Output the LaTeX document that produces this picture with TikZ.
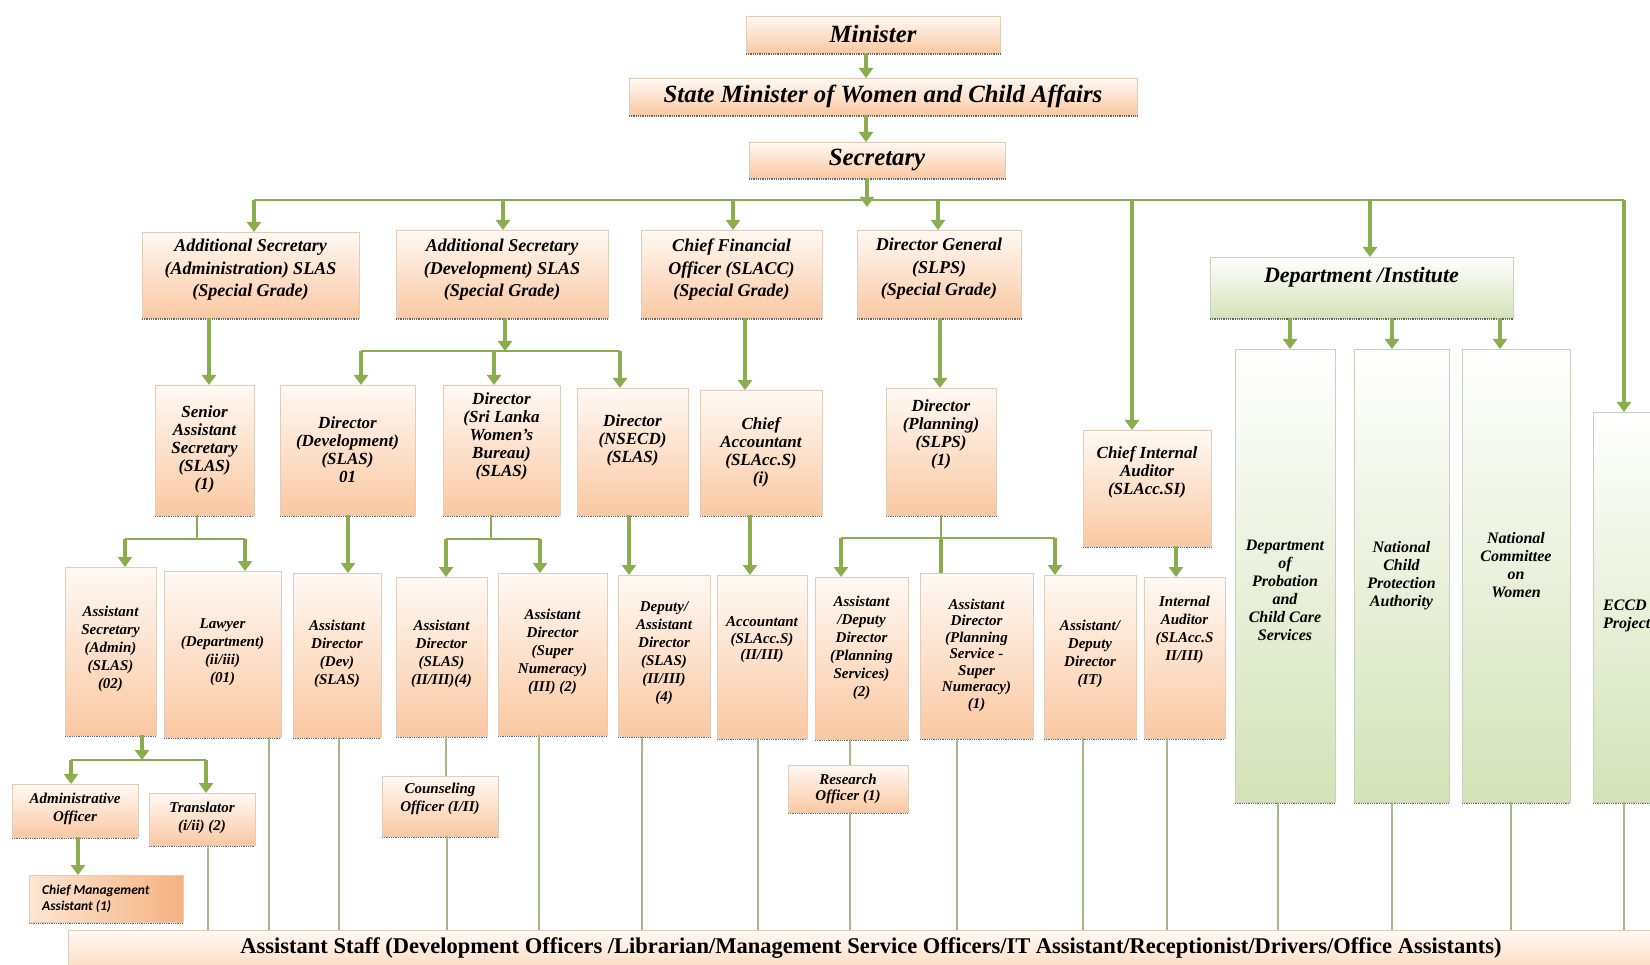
\documentclass[tikz,border=0pt]{standalone}
\usepackage{fontspec}
\setmainfont{Liberation Serif}
\newfontfamily\calfont{Carlito}
\usetikzlibrary{arrows.meta}
\definecolor{arrg}{RGB}{140,172,80}
\definecolor{thinc}{RGB}{168,182,138}
\definecolor{obot}{RGB}{250,200,162}
\definecolor{otop}{RGB}{255,249,244}
\definecolor{gbot}{RGB}{212,226,184}
\definecolor{oedge}{RGB}{222,205,188}
\definecolor{gedge}{RGB}{200,208,190}
\definecolor{shad}{RGB}{105,105,105}
\definecolor{cmaL}{RGB}{252,230,212}
\definecolor{cmaR}{RGB}{245,178,128}
\tikzset{
  x=1pt, y=-1pt,
  obox/.style={draw=oedge, line width=0.8pt, top color=otop, bottom color=obot, inner sep=0pt, outer sep=0pt},
  gbox/.style={draw=gedge, line width=0.8pt, top color=white, bottom color=gbot, inner sep=0pt, outer sep=0pt},
  cmabox/.style={draw=oedge, line width=0.8pt, left color=cmaL, right color=cmaR, inner sep=0pt, outer sep=0pt},
  staffbox/.style={draw=oedge, line width=0.8pt, top color=otop, bottom color=obot, inner sep=0pt, outer sep=0pt},
  arr/.style={draw=arrg, line width=3.5pt, -{Triangle[width=14pt,length=10pt]}},
  thick line/.style={draw=arrg, line width=3.5pt},
  busln/.style={draw=arrg, line width=2.2pt},
  thinln/.style={draw=thinc, line width=1.2pt},
  shadowln/.style={draw=shad, line width=1.6pt, dash pattern=on 0.9pt off 0.9pt},
  tt/.style={align=center, inner sep=0pt, font=\fontsize{24.8}{28}\selectfont\bfseries\itshape},
  tdept/.style={align=center, inner sep=0pt, font=\fontsize{22}{26}\selectfont\bfseries\itshape},
  ttwo/.style={align=center, inner sep=0pt, font=\fontsize{18}{22.5}\selectfont\bfseries\itshape},
  tthree/.style={align=center, inner sep=0pt, font=\fontsize{17}{18}\selectfont\bfseries\itshape},
  tgreen/.style={align=center, inner sep=0pt, font=\fontsize{16}{18}\selectfont\bfseries\itshape},
  tfour/.style={align=center, inner sep=0pt, font=\fontsize{15}{18}\selectfont\bfseries\itshape},
  tfourb/.style={align=center, inner sep=0pt, font=\fontsize{15}{16.5}\selectfont\bfseries\itshape},
  tfive/.style={align=center, inner sep=0pt, font=\fontsize{15}{18}\selectfont\bfseries\itshape},
  tcma/.style={align=left, anchor=west, inner sep=0pt, font=\calfont\fontsize{13.5}{16}\selectfont\bfseries\itshape},
  tstaff/.style={inner sep=0pt, font=\fontsize{22.5}{26}\selectfont\bfseries},
}
% box: name, x1, y1, x2, y2, style
\newcommand{\bx}[6]{%
  \node[#6, minimum width={(#4-#2)*1pt}, minimum height={(#5-#3)*1pt}] (#1) at ({(#2+#4)/2},{(#3+#5)/2}) {};
  \draw[shadowln] ([yshift=-1.3pt]#1.south west) -- ([yshift=-1.3pt]#1.south east);
}
% text: name, box, y, style, text
\newcommand{\tx}[5]{\node[#4] (#1) at (#2.center |- 0,#3) {#5};}
\begin{document}
\begin{tikzpicture}
\useasboundingbox (0,0) rectangle (1650,965);
\clip (0,0) rectangle (1650,965);
\fill[white] (0,0) rectangle (1650,965);

% ---------- boxes ----------
\bx{min}{746}{16}{1000}{53}{obox}
\bx{state}{629}{78}{1137}{115}{obox}
\bx{sec}{749}{142}{1005}{178}{obox}
\bx{as1}{142}{232}{359}{318}{obox}
\bx{as2}{396}{230}{608}{318}{obox}
\bx{cfo}{641}{230}{822}{318}{obox}
\bx{dg}{857}{230}{1021}{318}{obox}
\bx{dept}{1210}{257}{1513}{318}{gbox}
\bx{ssa}{155}{385}{254}{515}{obox}
\bx{dd}{280}{385}{415}{515}{obox}
\bx{dsl}{443}{385}{560}{515}{obox}
\bx{dns}{577}{388}{688}{515}{obox}
\bx{ca}{700}{390}{822}{515}{obox}
\bx{dp}{886}{388}{996}{515}{obox}
\bx{cia}{1083}{430}{1211}{546}{obox}
\bx{dpcc}{1235}{349}{1335}{802}{gbox}
\bx{ncpa}{1354}{349}{1449}{802}{gbox}
\bx{ncw}{1462}{349}{1570}{802}{gbox}
\bx{eccd}{1593}{412}{1720}{802}{gbox}
\bx{asa}{65}{567}{156}{735}{obox}
\bx{law}{164}{571}{281}{737}{obox}
\bx{add}{293}{573}{381}{737}{obox}
\bx{ads}{396}{577}{487}{736}{obox}
\bx{adsn}{498}{573}{607}{735}{obox}
\bx{dad}{618}{575}{710}{736}{obox}
\bx{acc}{717}{575}{807}{738}{obox}
\bx{adps}{815}{577}{908}{739}{obox}
\bx{adpss}{920}{573}{1033}{738}{obox}
\bx{adit}{1044}{575}{1136}{738}{obox}
\bx{ia}{1144}{577}{1225}{738}{obox}
\bx{ao}{12}{784}{138}{837}{obox}
\bx{tr}{149}{793}{255}{845}{obox}
\bx{cma}{29}{875}{183}{922}{cmabox}
\bx{co}{382}{776}{498}{836}{obox}
\bx{ro}{788}{765}{908}{812}{obox}
\bx{staff}{68}{930}{1720}{995}{staffbox}

% ---------- texts ----------
\tx{min-t}{min}{34.5}{tt}{Minister}
\tx{state-t}{state}{96.5}{tt}{State Minister of Women and Child Affairs}
\tx{sec-t}{sec}{160}{tt}{Secretary}
\tx{as1-t}{as1}{270}{ttwo}{Additional Secretary\\(Administration) SLAS\\(Special Grade)}
\tx{as2-t}{as2}{270}{ttwo}{Additional Secretary\\(Development) SLAS\\(Special Grade)}
\tx{cfo-t}{cfo}{270}{ttwo}{Chief Financial\\Officer (SLACC)\\(Special Grade)}
\tx{dg-t}{dg}{269}{ttwo}{Director General\\(SLPS)\\(Special Grade)}
\tx{dept-t}{dept}{277}{tdept}{Department /Institute}
\tx{ssa-t}{ssa}{449.5}{tthree}{Senior\\Assistant\\Secretary\\(SLAS)\\(1)}
\tx{dd-t}{dd}{450}{tthree}{Director\\(Development)\\(SLAS)\\01}
\tx{dsl-t}{dsl}{436}{tthree}{Director\\(Sri Lanka\\Women’s\\Bureau)\\(SLAS)}
\tx{dns-t}{dns}{440}{tthree}{Director\\(NSECD)\\(SLAS)}
\tx{ca-t}{ca}{452}{tthree}{Chief\\Accountant\\(SLAcc.S)\\(i)}
\tx{dp-t}{dp}{434}{tthree}{Director\\(Planning)\\(SLPS)\\(1)}
\tx{cia-t}{cia}{472}{tthree}{Chief Internal\\Auditor\\(SLAcc.SI)}
\tx{dpcc-t}{dpcc}{590}{tgreen}{Department\\of\\Probation\\and\\Child Care\\Services}
\tx{ncpa-t}{ncpa}{576}{tgreen}{National\\Child\\Protection\\Authority}
\tx{ncw-t}{ncw}{565}{tgreen}{National\\Committee\\on\\Women}
\node[tgreen, align=left, anchor=west] (eccd-t) at (1603,616) {ECCD\\Project};
\tx{asa-t}{asa}{649}{tfour}{Assistant\\Secretary\\(Admin)\\(SLAS)\\(02)}
\tx{law-t}{law}{652}{tfour}{Lawyer\\(Department)\\(ii/iii)\\(01)}
\tx{add-t}{add}{654}{tfour}{Assistant\\Director\\(Dev)\\(SLAS)}
\tx{ads-t}{ads}{654}{tfour}{Assistant\\Director\\(SLAS)\\(II/III)(4)}
\tx{adsn-t}{adsn}{652}{tfour}{Assistant\\Director\\(Super\\Numeracy)\\(III) (2)}
\tx{dad-t}{dad}{653}{tfour}{Deputy/\\Assistant\\Director\\(SLAS)\\(II/III)\\(4)}
\tx{acc-t}{acc}{640}{tfourb}{Accountant\\(SLAcc.S)\\(II/III)}
\tx{adps-t}{adps}{648}{tfour}{Assistant\\/Deputy\\Director\\(Planning\\Services)\\(2)}
\tx{adpss-t}{adpss}{655}{tfourb}{Assistant\\Director\\(Planning\\Service -\\Super\\Numeracy)\\(1)}
\tx{adit-t}{adit}{654}{tfour}{Assistant/\\Deputy\\Director\\(IT)}
\tx{ia-t}{ia}{630}{tfour}{Internal\\Auditor\\(SLAcc.S\\II/III)}
\tx{ao-t}{ao}{809}{tfive}{Administrative\\Officer}
\tx{tr-t}{tr}{818}{tfive}{Translator\\(i/ii) (2)}
\node[tcma] (cma-t) at (42,899) {Chief Management\\Assistant (1)};
\tx{co-t}{co}{799}{tfive}{Counseling\\Officer (I/II)}
\tx{ro-t}{ro}{789}{tfourb}{Research\\Officer (1)}
\node[tstaff] (staff-t) at (871,948) {Assistant Staff (Development Officers /Librarian/Management Service Officers/IT Assistant/Receptionist/Drivers/Office Assistants)};

% ---------- coordinates ----------
\coordinate (c-top) at (866,0);
\coordinate (d-sec) at (867,207);
\coordinate (busL) at (254,200);
\coordinate (busR) at (1624,200);
\coordinate (d-as1) at (254,200);
\coordinate (d-as2) at (503,200);
\coordinate (d-cfo) at (733,200);
\coordinate (d-dg) at (938,200);
\coordinate (d-cia) at (1132,200);
\coordinate (d-dept) at (1370,200);
\coordinate (d-eccd) at (1624,200);
\coordinate (k-as1) at (209,0);
\coordinate (k-as2) at (505,351);
\coordinate (k-dd) at (361,351);
\coordinate (k-dsl) at (494,351);
\coordinate (k-dns) at (620,351);
\coordinate (k-cfo) at (745,0);
\coordinate (k-dg) at (940,0);
\coordinate (k-dpcc) at (1290,0);
\coordinate (k-ncpa) at (1392,0);
\coordinate (k-ncw) at (1500,0);
\coordinate (k-ssa) at (197,539);
\coordinate (k-asa) at (125,539);
\coordinate (k-law) at (245,539);
\coordinate (k-dd2) at (348,0);
\coordinate (k-dsl2) at (491,539);
\coordinate (k-ads) at (446,539);
\coordinate (k-adsn) at (540,539);
\coordinate (k-dns2) at (629,0);
\coordinate (k-ca) at (750,0);
\coordinate (k-dp) at (941,538);
\coordinate (k-adps) at (841,538);
\coordinate (k-adit) at (1055,538);
\coordinate (k-cia) at (1176,0);
\coordinate (k-asa2) at (142,760);
\coordinate (k-ao) at (71,760);
\coordinate (k-tr) at (206,760);
\coordinate (k-cma) at (78,0);
\coordinate (k-co) at (446,0);
\coordinate (k-ro) at (850,0);
% lines to staff
\coordinate (s-tr) at (208,0);
\coordinate (s-law) at (269,0);
\coordinate (s-add) at (339,0);
\coordinate (s-co) at (447,0);
\coordinate (s-adsn) at (539,0);
\coordinate (s-dad) at (642,0);
\coordinate (s-acc) at (758,0);
\coordinate (s-ro) at (850,0);
\coordinate (s-adpss) at (957,0);
\coordinate (s-adit) at (1083,0);
\coordinate (s-ia) at (1167,0);
\coordinate (s-dpcc) at (1278,0);
\coordinate (s-ncpa) at (1392,0);
\coordinate (s-ncw) at (1511,0);
\coordinate (s-eccd) at (1624,0);

% ---------- connectors ----------
\draw[arr] (c-top |- min.south) -- (c-top |- state.north);
\draw[arr] (c-top |- state.south) -- (c-top |- sec.north);
\draw[arr] (d-sec |- sec.south) -- (d-sec);
\draw[busln] (busL) -- (busR);
\draw[arr] (d-as1) -- (d-as1 |- as1.north);
\draw[arr] (d-as2) -- (d-as2 |- as2.north);
\draw[arr] (d-cfo) -- (d-cfo |- cfo.north);
\draw[arr] (d-dg) -- (d-dg |- dg.north);
\draw[arr] (d-cia) -- (d-cia |- cia.north);
\draw[arr] (d-dept) -- (d-dept |- dept.north);
\draw[arr] (d-eccd) -- (d-eccd |- eccd.north);

\draw[arr] (k-as1 |- as1.south) -- (k-as1 |- ssa.north);
\draw[arr] (k-as2 |- as2.south) -- (k-as2);
\draw[busln] (k-dd) -- (k-dns);
\draw[arr] (k-dd) -- (k-dd |- dd.north);
\draw[arr] (k-dsl) -- (k-dsl |- dsl.north);
\draw[arr] (k-dns) -- (k-dns |- dns.north);
\draw[arr] (k-cfo |- cfo.south) -- (k-cfo |- ca.north);
\draw[arr] (k-dg |- dg.south) -- (k-dg |- dp.north);
\draw[arr] (k-dpcc |- dept.south) -- (k-dpcc |- dpcc.north);
\draw[arr] (k-ncpa |- dept.south) -- (k-ncpa |- ncpa.north);
\draw[arr] (k-ncw |- dept.south) -- (k-ncw |- ncw.north);

\draw[busln] (k-ssa |- ssa.south) -- (k-ssa);
\draw[busln] (k-asa) -- (k-law);
\draw[arr] (k-asa) -- (k-asa |- asa.north);
\draw[arr] (k-law) -- (k-law |- law.north);
\draw[arr] (k-dd2 |- dd.south) -- (k-dd2 |- add.north);
\draw[busln] (k-dsl2 |- dsl.south) -- (k-dsl2);
\draw[busln] (k-ads) -- (k-adsn);
\draw[arr] (k-ads) -- (k-ads |- ads.north);
\draw[arr] (k-adsn) -- (k-adsn |- adsn.north);
\draw[arr] (k-dns2 |- dns.south) -- (k-dns2 |- dad.north);
\draw[arr] (k-ca |- ca.south) -- (k-ca |- acc.north);
\draw[busln] (k-dp |- dp.south) -- (k-dp);
\draw[busln] (k-adps) -- (k-adit);
\draw[arr] (k-adps) -- (k-adps |- adps.north);
\draw[thick line] (k-dp) -- (k-dp |- adpss.north);
\draw[arr] (k-adit) -- (k-adit |- adit.north);
\draw[arr] (k-cia |- cia.south) -- (k-cia |- ia.north);

\draw[arr] (k-asa2 |- asa.south) -- (k-asa2);
\draw[busln] (k-ao) -- (k-tr);
\draw[arr] (k-ao) -- (k-ao |- ao.north);
\draw[arr] (k-tr) -- (k-tr |- tr.north);
\draw[arr] (k-cma |- ao.south) -- (k-cma |- cma.north);
\draw[thinln] (k-co |- ads.south) -- (k-co |- co.north);
\draw[thinln] (k-ro |- adps.south) -- (k-ro |- ro.north);

\foreach \n/\b in {tr/tr, law/law, add/add, co/co, adsn/adsn, dad/dad, acc/acc, ro/ro, adpss/adpss, adit/adit, ia/ia, dpcc/dpcc, ncpa/ncpa, ncw/ncw, eccd/eccd}
  \draw[thinln] (s-\n |- \b.south) -- (s-\n |- staff.north);
\end{tikzpicture}
\end{document}
